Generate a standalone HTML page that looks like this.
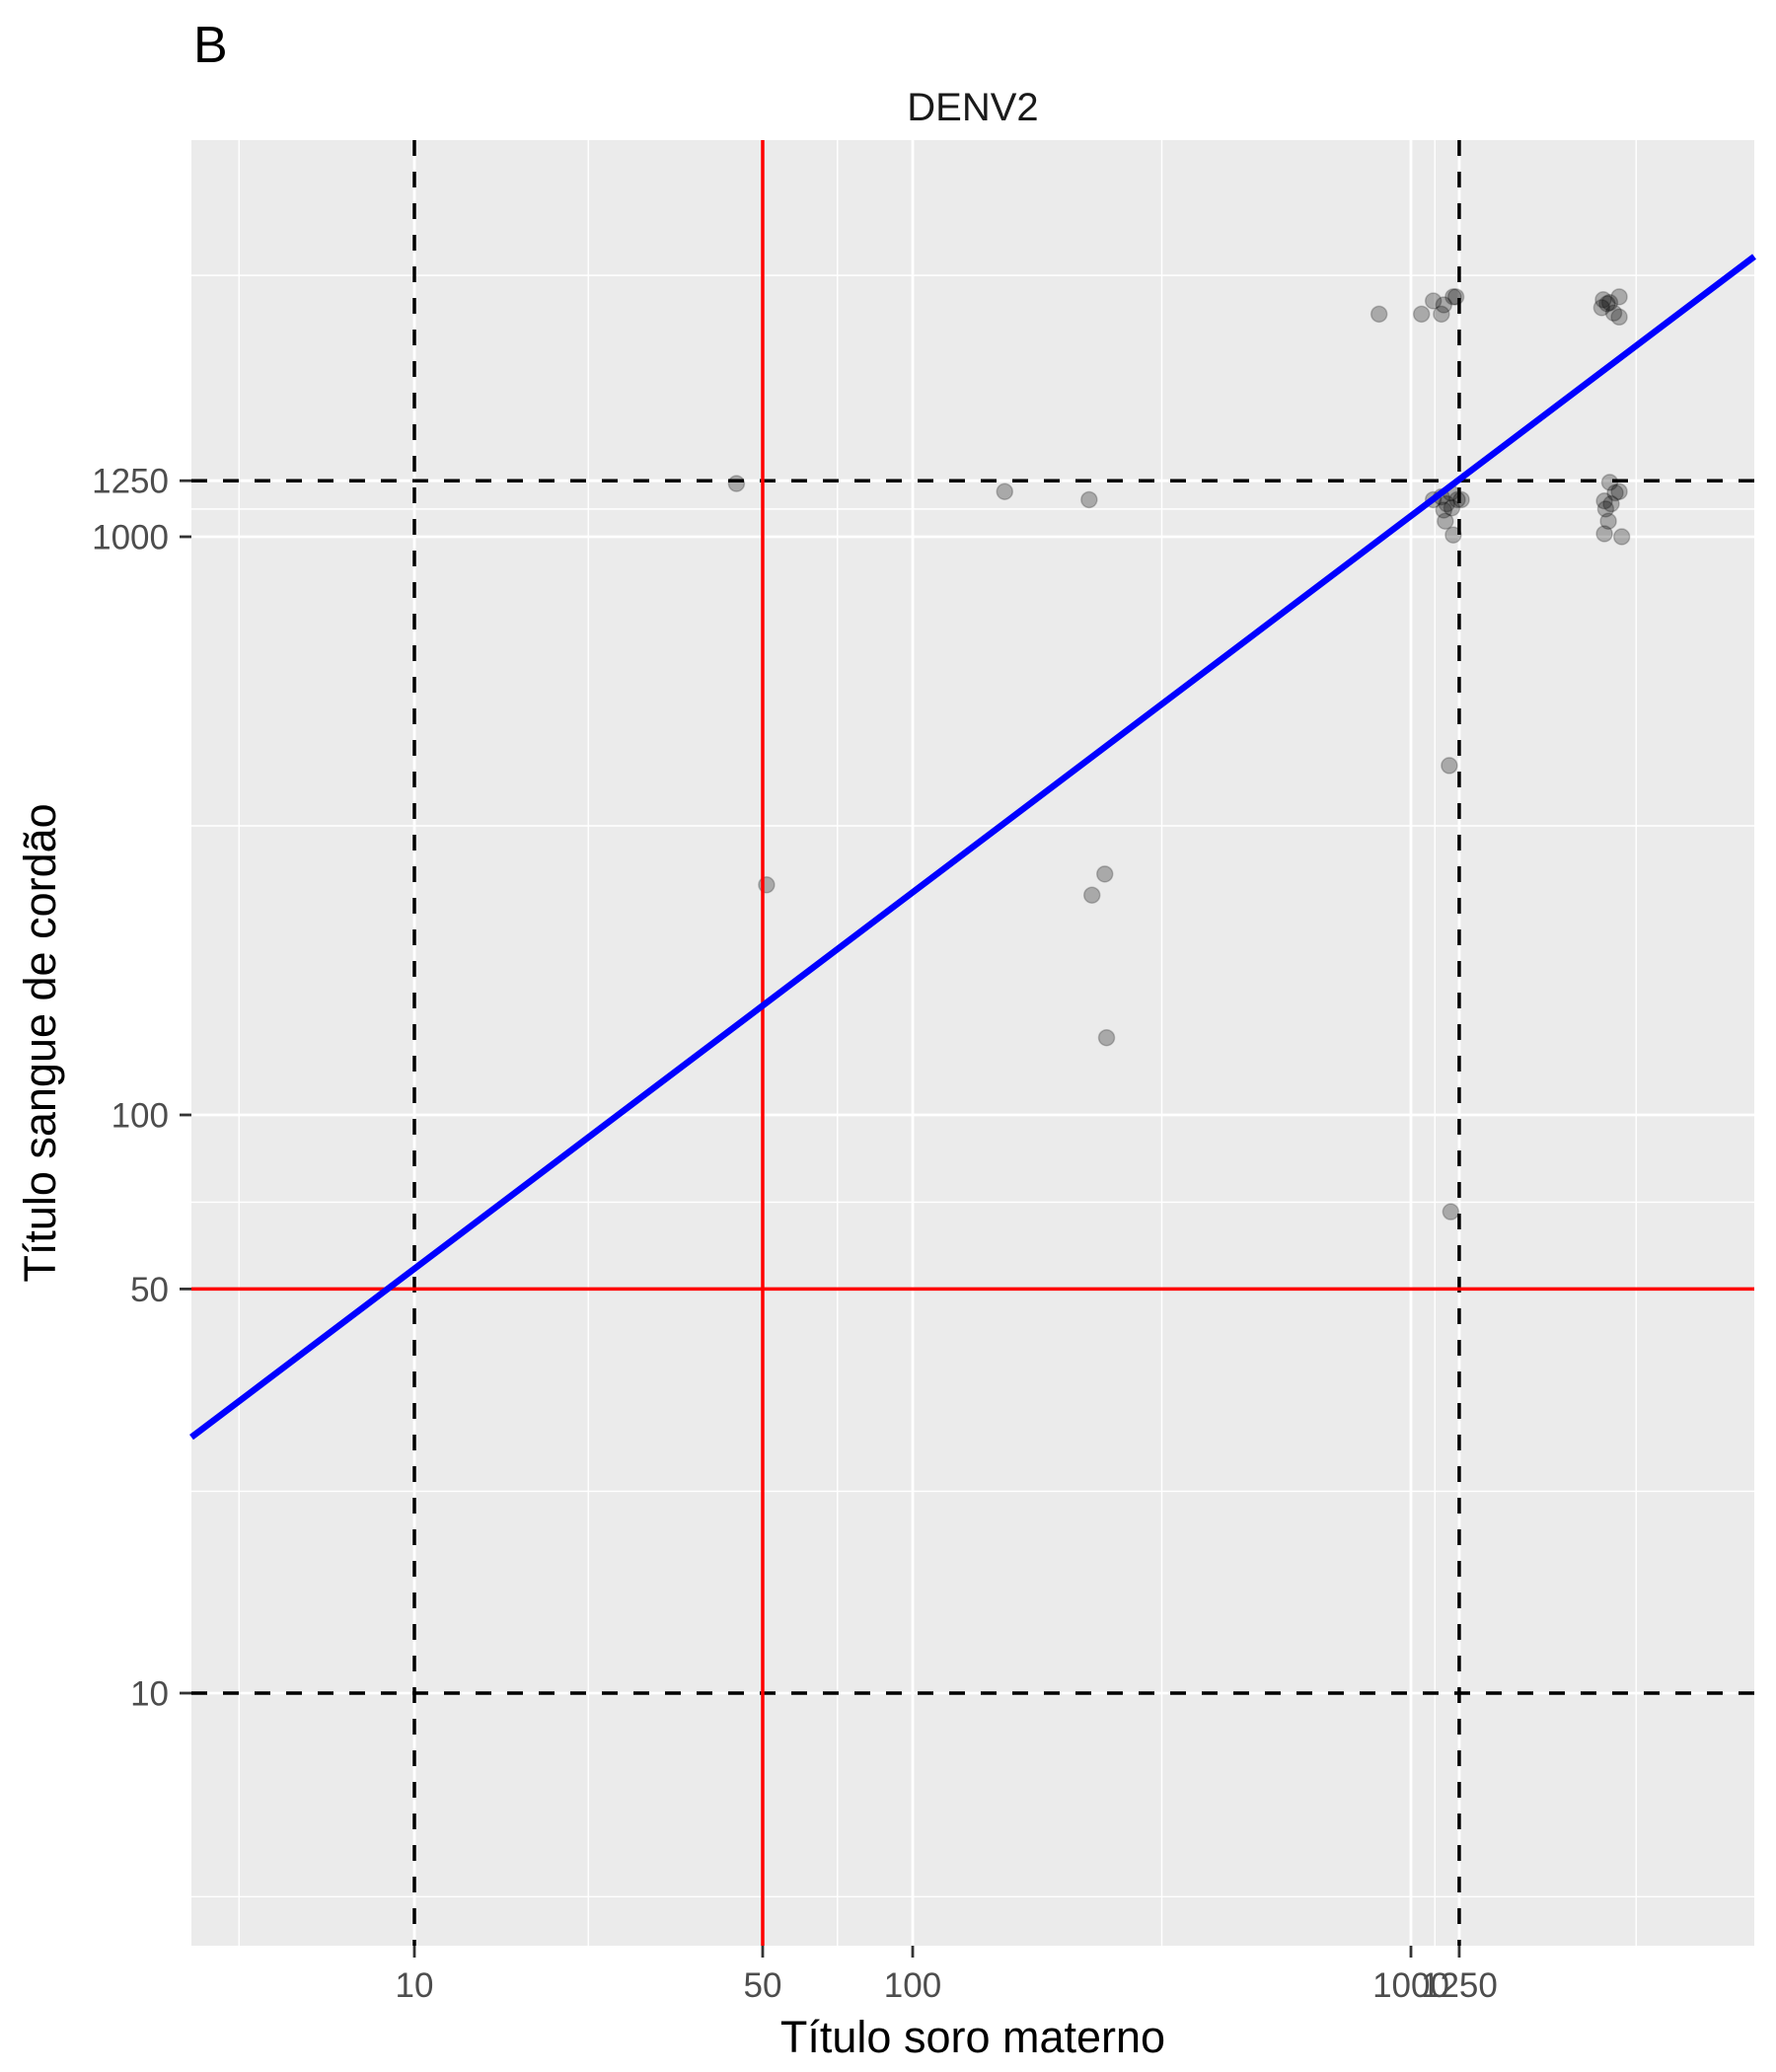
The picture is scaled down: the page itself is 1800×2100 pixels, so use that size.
<!DOCTYPE html>
<html><head><meta charset="utf-8"><style>
html,body{margin:0;padding:0;background:#fff;}
svg{display:block;font-family:"Liberation Sans",Arial,sans-serif;}
</style></head><body>
<svg id="chart" width="1800" height="2100" viewBox="0 0 1800 2100" xmlns="http://www.w3.org/2000/svg">
<rect x="0" y="0" width="1800" height="2100" fill="#fff"/>
<text x="196" y="63" font-size="52" fill="#000">B</text>
<text x="986" y="122" font-size="40" text-anchor="middle" fill="#1a1a1a">DENV2</text>
<rect x="194" y="142" width="1584" height="1830" fill="#ebebeb"/>
<g id="grid"></g>
<g id="points"></g>
<g id="refs"></g>
<g id="axes"></g>
<text x="986" y="2080" font-size="45" text-anchor="middle" fill="#000">Título soro materno</text>
<text transform="translate(56,1057) rotate(-90)" font-size="45" text-anchor="middle" fill="#000">Título sangue de cordão</text>
</svg>
<script>
const xMajor = [10, 50, 100, 1000, 1250];
const yMajor = [10, 50, 100, 1000, 1250];
const xTickLabels = ["10", "50", "100", "1000", "1250"];
const yTickLabels = ["10", "50", "100", "1000", "1250"];
const minorLog = [0.648, 1.349, 1.849, 2.5, 3.048, 3.452];
const xMaternal = [44.3,153,226,863,1050,1109,1151,1164,1216,1231,2432,2477,2506,2618,2553,2618,2415,
 1109,1151,1180,1208,1239,1262,1172,1216,1164,1202,
 2506,2445,2523,2460,2618,2570,2490,2445,2649,
 1194,50.9,243,229,245,1202];
const yCord = [1236,1197,1159,2427,2427,2558,2427,2518,2600,2600,2570,2529,2541,2600,2438,2399,2490,
 1159,1172,1140,1122,1159,1159,1064,1007,1112,1191,
 1242,1153,1140,1117,1197,1191,1064,1012,1000,
 402,250,261,240,136,68];
const fitIntercept = 1.083, fitSlope = 0.651;
const refDashed = [10, 1250];
const refRed = [50];

const L=194,R=1778,T=142,B=1972;
const xs = v => 420 + 505*(Math.log10(v)-1);
const ys = v => 1716 - 586*(Math.log10(v)-1);
const NS="http://www.w3.org/2000/svg";
function mk(tag, attrs, parent){const e=document.createElementNS(NS,tag);for(const k in attrs)e.setAttribute(k,attrs[k]);parent.appendChild(e);return e;}
const grid=document.getElementById('grid'), pts=document.getElementById('points'), refs=document.getElementById('refs'), axes=document.getElementById('axes');

minorLog.forEach(l=>{
  const v=Math.pow(10,l);
  let e=mk('line',{x1:xs(v),x2:xs(v),y1:T,y2:B,stroke:'#fff','stroke-width':1.4},grid);
  
  
  e=mk('line',{x1:L,x2:R,y1:ys(v),y2:ys(v),stroke:'#fff','stroke-width':1.4},grid);
  
  
});
xMajor.forEach((v,i)=>{
  let e=mk('line',{x1:xs(v),x2:xs(v),y1:T,y2:B,stroke:'#fff','stroke-width':2.8},grid);
  
  
  e=mk('line',{x1:xs(v),x2:xs(v),y1:B,y2:B+12,stroke:'#333','stroke-width':2.8},axes);
  
  
  e=mk('text',{x:xs(v),y:2024,'font-size':35,'text-anchor':'middle',fill:'#4d4d4d'},axes);
  e.textContent=xTickLabels[i];
  
  
});
yMajor.forEach((v,i)=>{
  let e=mk('line',{x1:L,x2:R,y1:ys(v),y2:ys(v),stroke:'#fff','stroke-width':2.8},grid);
  
  
  e=mk('line',{x1:L-12,x2:L,y1:ys(v),y2:ys(v),stroke:'#333','stroke-width':2.8},axes);
  
  
  e=mk('text',{x:171,y:ys(v)+12.5,'font-size':35,'text-anchor':'end',fill:'#4d4d4d'},axes);
  e.textContent=yTickLabels[i];
  
  
});
xMaternal.forEach((v,i)=>{
  const c=mk('circle',{cx:xs(v),cy:ys(yCord[i]),r:8,fill:'rgba(0,0,0,0.28)',stroke:'rgba(0,0,0,0.22)','stroke-width':1.5},pts);
  
  
});
refDashed.forEach(v=>{
  let e=mk('line',{x1:xs(v),x2:xs(v),y1:T,y2:B,stroke:'#000','stroke-width':3.5,'stroke-dasharray':'16 16'},refs);
  
  
  e=mk('line',{x1:L,x2:R,y1:ys(v),y2:ys(v),stroke:'#000','stroke-width':3.5,'stroke-dasharray':'16 16'},refs);
  
  
});
refRed.forEach(v=>{
  let e=mk('line',{x1:xs(v),x2:xs(v),y1:T,y2:B,stroke:'#f00','stroke-width':3.5},refs);
  
  
  e=mk('line',{x1:L,x2:R,y1:ys(v),y2:ys(v),stroke:'#f00','stroke-width':3.5},refs);
  
  
});
const lx0=1+(L-420)/505, lx1=1+(R-420)/505;
const f=l=>Math.pow(10,fitIntercept+fitSlope*l);
const fl=mk('line',{x1:L,y1:ys(f(lx0)),x2:R,y2:ys(f(lx1)),stroke:'#00f','stroke-width':6.5},refs);


</script>
</body></html>
